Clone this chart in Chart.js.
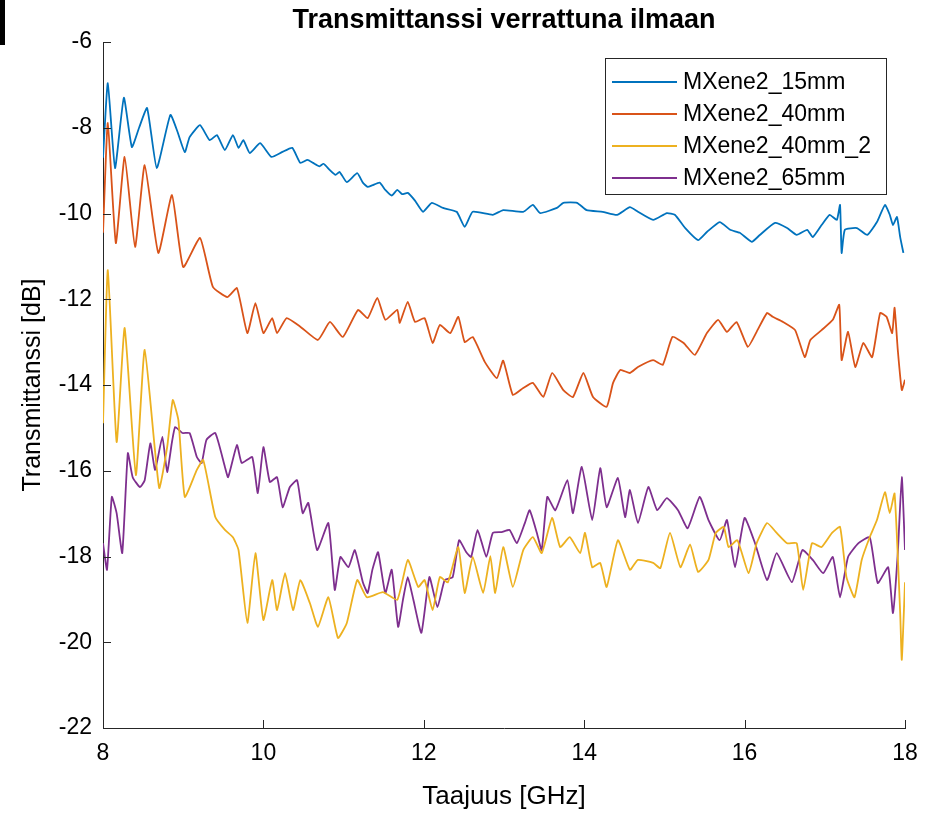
<!DOCTYPE html>
<html>
<head>
<meta charset="utf-8">
<script src="https://cdn.jsdelivr.net/npm/chart.js@4.4.1/dist/chart.umd.min.js"></script>
<style>
  html, body { margin: 0; padding: 0; background: #fff; }
  #wrap { position: relative; width: 936px; height: 813px; }
  #mark { position: absolute; left: 0; top: 0; width: 5px; height: 45px; background: #000; }
</style>
</head>
<body>
<div id="wrap">
  <canvas id="c" width="936" height="813"></canvas>
  <div id="mark"></div>
</div>
<script>
// ---- data (frequency in GHz, transmittance in dB) ----
const seriesLabels = ["MXene2_15mm", "MXene2_40mm", "MXene2_40mm_2", "MXene2_65mm"];
const seriesColors = ["#0072BD", "#D95319", "#EDB120", "#7E2F8E"];
const xTicks = [8, 10, 12, 14, 16, 18];
const yTicks = [-22, -20, -18, -16, -14, -12, -10, -8, -6];

const f15 = [8.0,8.06,8.15,8.26,8.36,8.45,8.55,8.67,8.84,8.93,9.02,9.08,9.21,9.33,9.42,9.52,9.62,9.69,9.75,9.83,9.96,10.1,10.23,10.36,10.46,10.55,10.62,10.7,10.75,10.83,10.9,10.95,11.04,11.17,11.24,11.3,11.36,11.45,11.52,11.6,11.67,11.73,11.8,11.89,11.99,12.1,12.24,12.41,12.51,12.61,12.86,12.99,13.24,13.36,13.45,13.66,13.74,13.91,14.03,14.23,14.41,14.57,14.67,14.86,15.03,15.13,15.26,15.42,15.53,15.69,15.82,15.94,16.09,16.19,16.38,16.53,16.65,16.78,16.85,16.96,17.06,17.15,17.19,17.21,17.25,17.4,17.53,17.65,17.75,17.81,17.85,17.9,17.94,17.98];
const db15 = [-8.7,-6.96,-8.94,-7.3,-8.45,-8.0,-7.54,-8.94,-7.7,-8.1,-8.57,-8.22,-7.94,-8.29,-8.17,-8.52,-8.17,-8.47,-8.29,-8.59,-8.36,-8.68,-8.57,-8.47,-8.82,-8.75,-8.82,-8.9,-8.84,-8.99,-9.1,-9.03,-9.27,-9.06,-9.28,-9.38,-9.34,-9.28,-9.45,-9.58,-9.45,-9.55,-9.52,-9.7,-9.96,-9.75,-9.87,-9.96,-10.31,-9.96,-10.03,-9.92,-9.96,-9.8,-9.99,-9.87,-9.75,-9.75,-9.92,-9.96,-10.03,-9.85,-9.96,-10.15,-9.99,-10.03,-10.34,-10.62,-10.43,-10.2,-10.38,-10.45,-10.66,-10.5,-10.22,-10.34,-10.5,-10.38,-10.55,-10.27,-10.03,-10.15,-9.8,-10.92,-10.38,-10.34,-10.5,-10.2,-9.8,-10.03,-10.27,-10.08,-10.55,-10.92];

const f40 = [8.0,8.06,8.16,8.27,8.4,8.52,8.69,8.86,9.0,9.21,9.37,9.55,9.67,9.8,9.9,10.0,10.11,10.17,10.29,10.46,10.68,10.83,10.99,11.18,11.3,11.42,11.52,11.67,11.7,11.8,11.89,12.01,12.11,12.2,12.33,12.43,12.51,12.61,12.76,12.91,12.99,13.11,13.24,13.36,13.49,13.6,13.74,13.86,13.99,14.11,14.28,14.36,14.45,14.57,14.67,14.86,14.98,15.1,15.24,15.38,15.53,15.67,15.78,15.9,16.04,16.15,16.28,16.35,16.48,16.63,16.75,16.82,16.96,17.1,17.18,17.21,17.29,17.38,17.48,17.59,17.69,17.77,17.84,17.87,17.91,17.96,18.0];
const db40 = [-10.45,-7.89,-10.69,-8.68,-10.78,-8.87,-10.92,-9.57,-11.25,-10.57,-11.71,-11.95,-11.74,-12.79,-12.09,-12.79,-12.44,-12.79,-12.44,-12.64,-12.95,-12.53,-12.88,-12.25,-12.44,-11.97,-12.48,-12.25,-12.55,-12.06,-12.53,-12.44,-13.02,-12.6,-12.79,-12.41,-13.0,-12.88,-13.46,-13.84,-13.43,-14.23,-14.07,-13.95,-14.28,-13.72,-14.12,-14.28,-13.72,-14.28,-14.51,-13.95,-13.65,-13.72,-13.58,-13.42,-13.53,-12.88,-13.02,-13.3,-12.79,-12.48,-12.76,-12.53,-13.11,-12.76,-12.32,-12.41,-12.53,-12.72,-13.35,-12.95,-12.72,-12.48,-12.13,-13.42,-12.76,-13.58,-13.02,-13.35,-12.32,-12.41,-12.79,-12.2,-13.18,-14.12,-13.88];

const f40b = [8.0,8.06,8.17,8.27,8.41,8.52,8.7,8.8,8.87,8.94,9.02,9.17,9.25,9.4,9.52,9.62,9.69,9.8,9.9,10.0,10.11,10.17,10.27,10.37,10.46,10.58,10.68,10.81,10.93,11.04,11.17,11.29,11.49,11.67,11.8,11.93,12.01,12.11,12.2,12.3,12.43,12.51,12.61,12.74,12.83,12.89,12.99,13.11,13.24,13.36,13.47,13.6,13.7,13.82,13.95,14.01,14.1,14.2,14.28,14.42,14.57,14.67,14.86,14.95,15.07,15.2,15.32,15.42,15.55,15.64,15.74,15.8,15.91,16.05,16.15,16.28,16.4,16.53,16.65,16.73,16.84,16.96,17.09,17.19,17.27,17.37,17.46,17.56,17.65,17.75,17.81,17.87,17.94,17.96,18.0];
const db40b = [-14.89,-11.32,-15.33,-12.67,-16.1,-13.18,-16.4,-15.45,-14.35,-14.82,-16.61,-15.98,-15.75,-17.08,-17.38,-17.55,-17.85,-19.55,-17.92,-19.48,-18.55,-19.25,-18.39,-19.25,-18.55,-19.09,-19.64,-18.95,-19.9,-19.55,-18.55,-18.95,-18.83,-19.01,-18.08,-18.71,-18.55,-19.25,-18.48,-18.6,-17.78,-18.85,-18.01,-18.85,-17.99,-18.85,-17.78,-18.71,-17.85,-17.55,-17.92,-17.1,-17.78,-17.55,-17.92,-17.45,-18.25,-18.15,-18.71,-17.62,-18.31,-18.08,-18.15,-18.27,-17.45,-18.25,-17.72,-18.36,-18.08,-17.45,-17.31,-17.78,-17.62,-18.39,-17.69,-17.22,-17.45,-17.69,-17.69,-18.78,-17.69,-17.78,-17.45,-17.31,-18.48,-18.95,-18.08,-17.55,-17.15,-16.5,-16.99,-16.53,-19.32,-20.41,-18.6];

const f65 = [8.0,8.05,8.11,8.17,8.24,8.31,8.37,8.46,8.52,8.59,8.65,8.74,8.8,8.86,8.9,8.99,9.08,9.17,9.23,9.29,9.4,9.52,9.56,9.67,9.73,9.86,9.93,10.0,10.08,10.17,10.24,10.33,10.42,10.49,10.56,10.67,10.81,10.89,10.96,11.06,11.14,11.24,11.3,11.36,11.43,11.52,11.6,11.68,11.74,11.8,11.87,11.97,12.07,12.17,12.26,12.36,12.44,12.53,12.59,12.67,12.78,12.86,12.97,13.07,13.16,13.26,13.32,13.41,13.47,13.54,13.64,13.79,13.86,13.97,14.1,14.2,14.28,14.42,14.51,14.57,14.67,14.8,14.91,15.03,15.17,15.29,15.44,15.55,15.69,15.78,15.88,16.0,16.13,16.28,16.4,16.59,16.72,16.85,16.98,17.1,17.19,17.29,17.42,17.56,17.66,17.79,17.85,17.91,17.96,18.0];
const db65 = [-17.69,-18.31,-16.61,-16.99,-17.92,-15.59,-16.15,-16.38,-16.22,-15.36,-15.98,-15.21,-16.03,-15.33,-14.98,-15.12,-15.12,-15.68,-15.82,-15.28,-15.12,-15.91,-16.15,-15.4,-15.82,-15.68,-16.52,-15.45,-16.26,-16.15,-16.85,-16.38,-16.22,-16.99,-16.75,-17.85,-17.22,-18.78,-18.01,-18.25,-17.85,-18.6,-18.85,-18.3,-17.9,-18.85,-18.31,-19.64,-19.01,-18.48,-19.01,-19.78,-18.48,-19.18,-18.55,-18.48,-17.62,-17.9,-18.01,-17.38,-18.01,-17.45,-17.43,-17.38,-17.69,-17.22,-16.92,-17.45,-17.85,-16.61,-16.92,-16.22,-16.99,-15.91,-17.15,-15.94,-16.85,-16.17,-17.08,-16.45,-17.22,-16.38,-16.92,-16.64,-16.92,-17.34,-16.61,-17.15,-17.62,-17.15,-18.25,-17.1,-17.69,-18.55,-17.92,-18.6,-17.85,-18.08,-18.39,-18.01,-18.95,-18.01,-17.69,-17.55,-18.62,-18.25,-19.32,-17.92,-16.15,-17.85];

const seriesX = [f15, f40, f40b, f65];
const seriesY = [db15, db40, db40b, db65];

const FONT = "'Liberation Sans', Arial, Helvetica, sans-serif";
const TEXT = "#000";
const AXIS = "#262626";

const datasets = seriesLabels.map((label, k) => ({
  label: label,
  data: seriesX[k].map((x, i) => ({ x: x, y: seriesY[k][i] })),
  borderColor: seriesColors[k],
  backgroundColor: seriesColors[k],
  borderWidth: 1.8,
  pointRadius: 0,
  tension: 0.15,
  fill: false
}));

// inward tick marks (MATLAB style)
const innerTicks = {
  id: 'innerTicks',
  afterDraw(chart) {
    const ctx = chart.ctx;
    const ca = chart.chartArea;
    const xs = chart.scales.x, ys = chart.scales.y;
    const len = 8;
    ctx.save();
    ctx.strokeStyle = AXIS;
    ctx.lineWidth = 1;
    ctx.beginPath();
    xTicks.forEach(v => {
      const px = Math.round(xs.getPixelForValue(v)) + 0.5;
      ctx.moveTo(px, ca.bottom);
      ctx.lineTo(px, ca.bottom - len);
    });
    yTicks.forEach(v => {
      const py = Math.round(ys.getPixelForValue(v)) + 0.5;
      ctx.moveTo(ca.left, py);
      ctx.lineTo(ca.left + len, py);
    });
    ctx.stroke();
    ctx.restore();
  }
};

// legend drawn as a boxed list inside the axes (MATLAB style)
const boxedLegend = {
  id: 'boxedLegend',
  afterDatasetsDraw(chart) {
    const ctx = chart.ctx;
    const ca = chart.chartArea;
    const w = 281, h = 136;
    const left = ca.right - 19 - w;
    const top = ca.top + 16;
    ctx.save();
    ctx.fillStyle = '#fff';
    ctx.fillRect(left, top, w, h);
    ctx.strokeStyle = AXIS;
    ctx.lineWidth = 1;
    ctx.strokeRect(left + 0.5, top + 0.5, w, h);
    ctx.font = "23px " + FONT;
    ctx.textBaseline = 'middle';
    ctx.textAlign = 'left';
    chart.data.datasets.forEach((ds, i) => {
      const y = top + 24 + i * 32;
      ctx.strokeStyle = ds.borderColor;
      ctx.lineWidth = 1.8;
      ctx.beginPath();
      ctx.moveTo(left + 7, y);
      ctx.lineTo(left + 72, y);
      ctx.stroke();
      ctx.fillStyle = TEXT;
      ctx.fillText(ds.label, left + 78, y + 1);
    });
    ctx.restore();
  }
};

new Chart(document.getElementById('c'), {
  type: 'line',
  data: { datasets: datasets },
  options: {
    responsive: false,
    animation: false,
    layout: { padding: { left: 0, right: 31, top: 0, bottom: 0 } },
    plugins: {
      legend: { display: false },
      tooltip: { enabled: false },
      title: {
        display: true,
        fullSize: false,
        text: 'Transmittanssi verrattuna ilmaan',
        color: TEXT,
        font: { family: FONT, size: 27, weight: 'bold' },
        padding: { top: 4, bottom: 5.6 }
      }
    },
    scales: {
      x: {
        type: 'linear',
        min: 8, max: 18,
        afterFit(scale) { scale.height = 85; },
        afterBuildTicks(scale) { scale.ticks = xTicks.map(v => ({ value: v })); },
        grid: { drawOnChartArea: false, drawTicks: false },
        border: { display: true, color: AXIS, width: 1 },
        ticks: { color: TEXT, font: { family: FONT, size: 23 }, padding: 12, maxRotation: 0 },
        title: {
          display: true, text: 'Taajuus [GHz]', color: TEXT,
          font: { family: FONT, size: 26 }, padding: { top: 0, bottom: 1 }
        }
      },
      y: {
        type: 'linear',
        min: -22, max: -6,
        afterFit(scale) { scale.width = 103; },
        afterBuildTicks(scale) { scale.ticks = yTicks.map(v => ({ value: v })); },
        grid: { drawOnChartArea: false, drawTicks: false },
        border: { display: true, color: AXIS, width: 1 },
        ticks: { color: TEXT, font: { family: FONT, size: 23 }, padding: 11 },
        title: {
          display: true, text: 'Transmittanssi [dB]', color: TEXT,
          font: { family: FONT, size: 25 }, padding: { top: 18, bottom: 0 }
        }
      }
    }
  },
  plugins: [innerTicks, boxedLegend]
});
</script>
</body>
</html>
